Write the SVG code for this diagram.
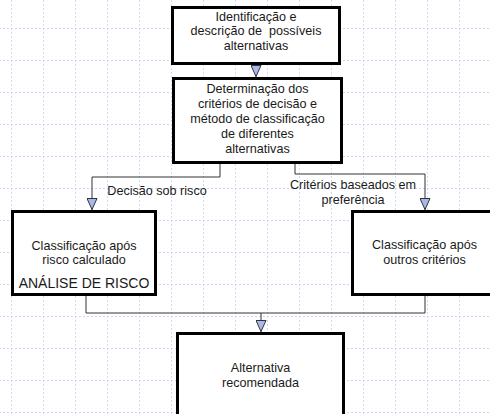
<svg xmlns="http://www.w3.org/2000/svg" width="490" height="414" viewBox="0 0 490 414">
<style>
.box{fill:#ffffff;stroke:#000000;stroke-width:3}
.t{font-family:"Liberation Sans",Arial,sans-serif;font-size:12.6px;fill:#1a1a1a;text-anchor:middle}
.big{font-size:14px}
.con{fill:none;stroke:#333333;stroke-width:1}
</style>
<defs>
<pattern id="grid" patternUnits="userSpaceOnUse" x="11" y="28" width="32" height="32">
<path d="M0,0 V32 M0,0 H32" fill="none" stroke="#c9d6fa" stroke-width="1.8" stroke-dasharray="2 2"/>
</pattern>
<marker id="arr" markerUnits="userSpaceOnUse" markerWidth="12" markerHeight="11" refX="12" refY="5.5" orient="auto">
<path d="M0.5,0.5 L11.5,5.5 L0.5,10.5 z" fill="#a8b8ec" stroke="#333333" stroke-width="1"/>
</marker>
</defs>
<rect x="0" y="0" width="490" height="414" fill="#ffffff"/>
<rect x="0" y="0" width="490" height="414" fill="url(#grid)"/>
<g id="connectors">
<path class="con" d="M256,64 V77" marker-end="url(#arr)"/>
<path class="con" d="M220,163 V177 H92 V210" marker-end="url(#arr)"/>
<path class="con" d="M295,163 V174 H425 V210" marker-end="url(#arr)"/>
<path class="con" d="M425,296 V313 H261"/>
<path class="con" d="M86,296 V313 H261 V332" marker-end="url(#arr)"/>
<text class="t" x="157" y="195">Decisão sob risco</text>
<text class="t" x="353" y="189">Critérios baseados em</text>
<text class="t" x="353" y="204">preferência</text>
</g>
<g id="n1">
<rect class="box" x="172.5" y="7.5" width="167" height="56"/>
<text class="t" x="256" y="21">Identificação e</text>
<text class="t" x="256" y="35" style="white-space:pre">descrição de  possíveis</text>
<text class="t" x="256" y="50">alternativas</text>
</g>
<g id="n2">
<rect class="box" x="173.5" y="78.5" width="168" height="84"/>
<text class="t" x="257.5" y="93">Determinação dos</text>
<text class="t" x="257.5" y="108">critérios de decisão e</text>
<text class="t" x="257.5" y="123">método de classificação</text>
<text class="t" x="257.5" y="138">de diferentes</text>
<text class="t" x="257.5" y="153">alternativas</text>
</g>
<g id="n3">
<rect class="box" x="12.5" y="211.5" width="143" height="83"/>
<text class="t" x="84" y="250">Classificação após</text>
<text class="t" x="84" y="264">risco calculado</text>
<text class="t big" x="84" y="288">ANÁLISE DE RISCO</text>
</g>
<g id="n4">
<rect class="box" x="352.5" y="211.5" width="150" height="83"/>
<text class="t" x="424.5" y="249">Classificação após</text>
<text class="t" x="424.5" y="264">outros critérios</text>
</g>
<g id="n5">
<rect class="box" x="177.5" y="333.5" width="166" height="95"/>
<text class="t" x="260.5" y="372">Alternativa</text>
<text class="t" x="260.5" y="387">recomendada</text>
</g>
</svg>
